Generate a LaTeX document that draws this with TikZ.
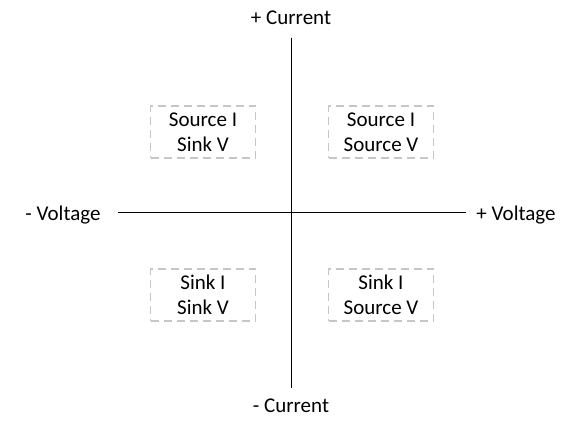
\documentclass[tikz,border=0pt]{standalone}
\usepackage{fontspec}
\setmainfont{Carlito}
\begin{document}
\begin{tikzpicture}[
    x=1pt,
    y=-1pt,
    line cap=butt,
    axis/.style={draw=black, line width=1pt},
    quad/.style={draw=gray!45, line width=1.4pt, dash pattern=on 8pt off 5pt,
                 minimum width=105pt, minimum height=52pt, align=center,
                 font=\fontsize{21}{25}\selectfont},
    lab/.style={font=\fontsize{21}{25}\selectfont, inner sep=0pt}
]
  \useasboundingbox (0,0) rectangle (585,435);

  % axes
  \coordinate (top) at (291,38);
  \coordinate (bot) at (291,388);
  \coordinate (lft) at (118,213);
  \coordinate (rgt) at (466,213);

  \draw[axis] (top) -- (bot);
  \draw[axis] (lft) -- (rgt);

  \node[lab] (curp) at (291,18)  {+ Current};
  \node[lab] (curm) at (291,406) {- Current};
  \node[lab] (volm) at (63,215)  {- Voltage};
  \node[lab] (volp) at (516,215) {+ Voltage};

  % quadrants
  \node[quad] (q2) at (203,132) {Source I\\Sink V};
  \node[quad] (q1) at (381,132) {Source I\\Source V};
  \node[quad] (q3) at (203,295) {Sink I\\Sink V};
  \node[quad] (q4) at (381,295) {Sink I\\Source V};
\end{tikzpicture}
\end{document}
